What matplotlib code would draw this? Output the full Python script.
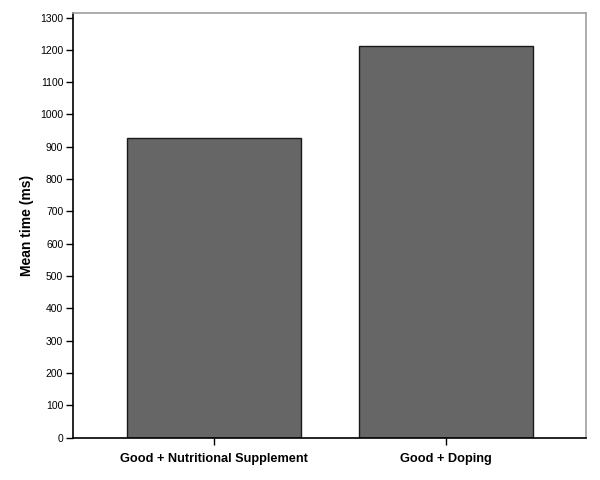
import matplotlib
matplotlib.use('Agg')
from matplotlib import pyplot as plt
import numpy as np

groups = ['Good + Nutritional Supplement', 'Good + Doping']
mean_time = [928, 1211]
y_ticks = list(range(0, 1301, 100))

plt.rcParams['font.family'] = ['Liberation Sans', 'DejaVu Sans']

fig = plt.figure(figsize=(6, 4.8), dpi=100)
ax = fig.add_axes([0.1217, 0.0885, 0.977 - 0.1217, 0.9735 - 0.0885])

x = np.arange(len(groups))
ax.bar(x, mean_time, width=0.75, color='#666666', edgecolor='#1a1a1a', linewidth=1.0, zorder=2)

ax.set_xlim(-0.608, 1.603)
ax.set_ylim(0, 1315)
ax.set_yticks(y_ticks)
ax.set_xticks(x)
ax.set_xticklabels(groups, fontweight='bold', fontsize=9.2)
ax.tick_params(axis='y', labelsize=7.5, length=5, width=1, direction='out', pad=2)
ax.tick_params(axis='x', length=5, width=1, direction='out', pad=6)

ax.set_ylabel('Mean time (ms)', fontweight='bold', fontsize=10, labelpad=4)

ax.spines['left'].set_color('black')
ax.spines['bottom'].set_color('black')
ax.spines['top'].set_color('#a0a0a0')
ax.spines['right'].set_color('#a0a0a0')
for s in ax.spines.values():
    s.set_linewidth(1.2)

plt.savefig('out.png', dpi=100)
